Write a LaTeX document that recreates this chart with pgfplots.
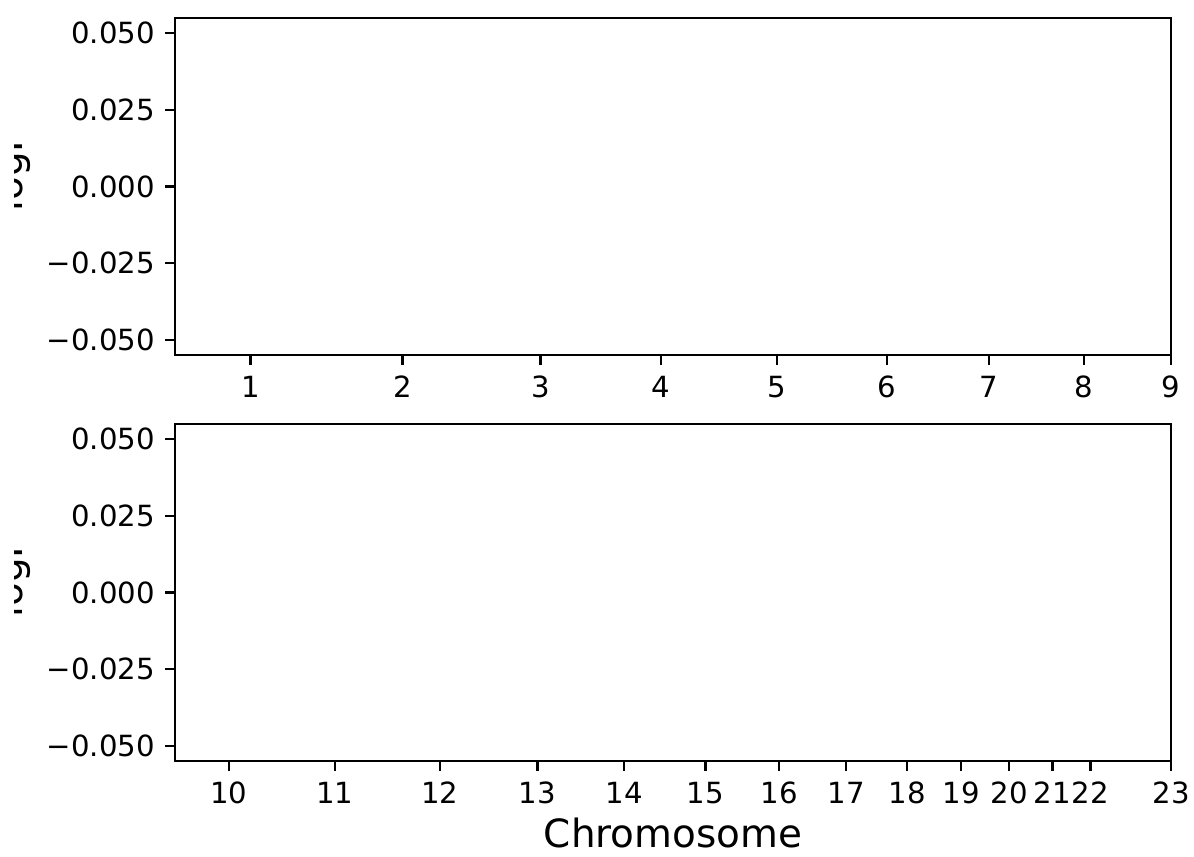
\documentclass[border=0pt]{standalone}
\usepackage{fontspec}
\setmainfont{DejaVu Sans}
\usepackage{pgfplots}
\pgfplotsset{compat=1.18}
\begin{document}
\begin{tikzpicture}
\pgfplotsset{
  chrom/.style={
    scale only axis,
    width=358.56pt, height=121.32pt,
    xmin=175, xmax=1171,
    ymin=-0.055, ymax=0.055,
    scaled y ticks=false,
    axis line style={line width=0.8pt},
    every tick/.style={black, line width=0.8pt},
    major tick length=3.5pt,
    tick align=outside,
    xtick pos=bottom, ytick pos=left,
    ytick={-0.05,-0.025,0,0.025,0.05},
    yticklabels={−0.050,−0.025,0.000,0.025,0.050},
    tick label style={font=\fontsize{10.5}{12}\selectfont},
    xticklabel style={anchor=north, inner sep=0pt, yshift=-3.8pt},
    yticklabel style={anchor=east, inner sep=0pt, xshift=-3.6pt},
    ylabel={−logP},
    ylabel style={font=\fontsize{14}{16}\selectfont, at={(axis description cs:-0.1531,0.5)}, anchor=base, inner sep=0pt, rotate=0},
  }
}
\begin{axis}[chrom, at={(0,146.16pt)}, anchor=south west,
  xtick={250.5,402.5,540.5,661,777,887,989,1084,1171},
  xticklabels={1,2,3,4,5,6,7,8,9}]
\end{axis}
\begin{axis}[chrom, at={(0,0)}, anchor=south west,
  xtick={229,335,440,537.5,624,705.5,779,846,907,961,1009,1052.5,1090.5,1171},
  xticklabels={10,11,12,13,14,15,16,17,18,19,20,21,22,23},
  xlabel={Chromosome},
  xlabel style={font=\fontsize{14}{16}\selectfont, at={(axis description cs:0.5,-0.258)}, anchor=base, inner sep=0pt}]
\end{axis}
\fill[white] (-64pt,-35pt) rectangle (-57.96pt,275pt);
\pgfresetboundingbox
\useasboundingbox (-63pt,-34.2pt) rectangle (366.84pt,273.96pt);
\end{tikzpicture}
\end{document}
